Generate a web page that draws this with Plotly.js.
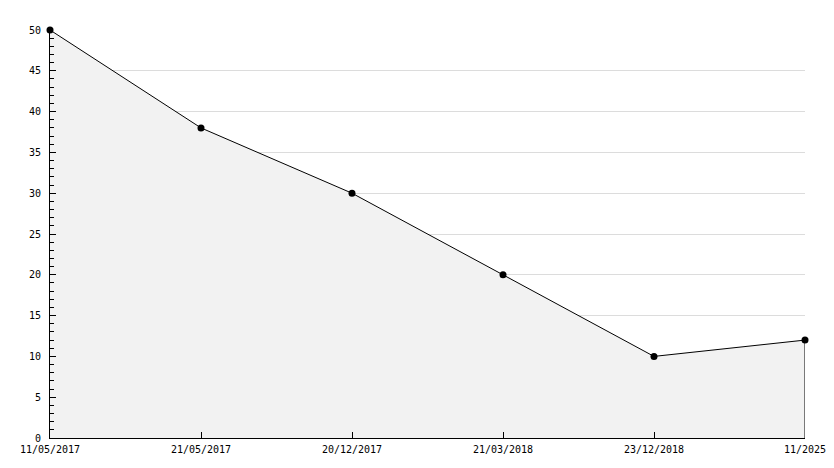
<!DOCTYPE html>
<html><head><meta charset="utf-8">
<script src="https://cdn.plot.ly/plotly-3.0.1.min.js"></script>
<style>html,body{margin:0;padding:0;background:#fff}#c{width:834px;height:468px}</style>
</head><body><div id="c"></div>
<script>
const dates = ["11/05/2017", "21/05/2017", "20/12/2017", "21/03/2018", "23/12/2018", "11/2025"];
const values = [50, 38, 30, 20, 10, 12];

const last = dates.length - 1;
const traces = [
  {x: dates, y: values, type: 'scatter', mode: 'lines+markers', fill: 'tozeroy',
   fillcolor: '#f2f2f2', line: {color: '#000', width: 1}, cliponaxis: false,
   marker: {color: '#000', size: 7, symbol: 'circle'}, hoverinfo: 'skip'},
  {x: [dates[last], dates[last]], y: [0, values[last]], type: 'scatter', mode: 'lines',
   line: {color: '#000', width: 1}, hoverinfo: 'skip'}
];
const font = {family: 'DejaVu Sans Mono, monospace', size: 10, color: '#000'};
const layout = {
  width: 834, height: 468, showlegend: false,
  margin: {l: 50, r: 29, t: 30, b: 30},
  paper_bgcolor: '#fff', plot_bgcolor: '#fff', font: font,
  xaxis: {type: 'category', range: [0, last], showgrid: false, zeroline: false,
    showline: true, linecolor: '#000', linewidth: 1, ticks: 'inside', ticklen: 6,
    tickcolor: '#000', tickfont: font, ticklabelstandoff: 2, fixedrange: true},
  yaxis: {range: [0, 50], dtick: 5, showgrid: true, gridcolor: '#dcdcdc', gridwidth: 1,
    zeroline: false, showline: true, linecolor: '#000', linewidth: 1,
    ticks: 'inside', ticklen: 6, tickcolor: '#000', tickfont: font, ticklabelstandoff: 6,
    minor: {dtick: 1, ticks: 'inside', ticklen: 4, tickcolor: '#000', showgrid: false},
    fixedrange: true}
};
Plotly.newPlot('c', traces, layout, {displayModeBar: false, staticPlot: true});
</script></body></html>
